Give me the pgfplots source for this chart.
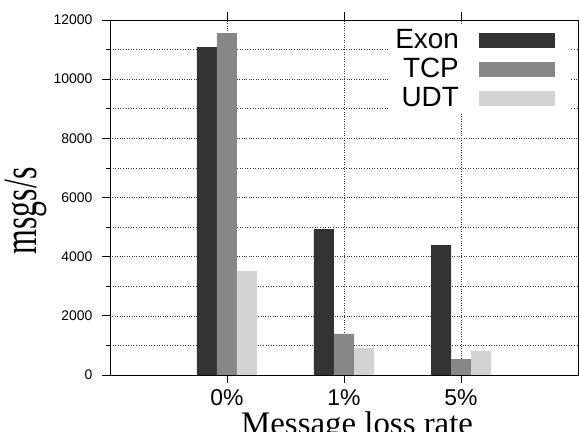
\documentclass[border=0pt]{standalone}
\usepackage{pgfplots}
\pgfplotsset{compat=1.18}
\usepackage{fontspec}
\setmainfont{Liberation Serif}
\setsansfont{Liberation Sans}
\definecolor{cexon}{HTML}{333333}
\definecolor{ctcp}{HTML}{878787}
\definecolor{cudt}{HTML}{D3D3D3}
\begin{document}
\begin{tikzpicture}
\begin{axis}[
  width=468bp, height=355bp, scale only axis,
  ybar=0pt, bar width=20bp,
  legend image code/.code={\path[fill=none,draw=none] (0bp,-7.5bp) rectangle (105bp,7.5bp); \fill[#1] (18bp,-7.5bp) rectangle (94bp,7.5bp);},
  xmin=-1, xmax=3, ymin=0, ymax=12000,
  xtick={0,1,2}, xticklabels={0\%,1\%,5\%},
  ytick={0,2000,...,12000}, minor y tick num=1,
  scaled y ticks=false,
  /pgf/number format/1000 sep={},
  /pgf/number format/assume math mode=true,
  tick align=outside, xtick pos=both, ytick pos=left,
  major tick length=8bp, minor tick length=4bp,
  axis line style={line width=0.8bp},
  tick style={line width=0.8bp, black},
  xmajorgrids, ymajorgrids, yminorgrids,
  grid style={dotted, line width=0.6bp, black!80},
  minor grid style={dotted, line width=0.6bp, black!80},
  yticklabel style={font=\sffamily\fontsize{14}{14}\selectfont, anchor=east, xshift=-6bp},
  xticklabel style={font=\sffamily\fontsize{23}{23}\selectfont, anchor=base, yshift=-22bp},
  ylabel={\scalebox{1}[1.5]{msgs/s}},
  ylabel style={font=\fontsize{32}{32}\selectfont, at={(axis description cs:-0.156,0.462)}, anchor=base, rotate=0},
  xlabel={Message loss rate},
  xlabel style={font=\fontsize{33}{33}\selectfont, at={(axis description cs:0.528,-0.168)}, anchor=base},
  legend style={draw=none, fill=white, at={(axis description cs:0.983,0.986)}, anchor=north east,
    font=\sffamily\fontsize{28}{28}\selectfont, inner xsep=4bp, inner ysep=2bp,
    row sep=3bp,
    nodes={inner sep=2bp, text height=19bp, text depth=3bp}},
  legend plot pos=right, legend cell align=right,
]
\addplot[fill=cexon, draw=none] coordinates {(0,11080) (1,4930) (2,4390)};
\addplot[fill=ctcp, draw=none] coordinates {(0,11560) (1,1390) (2,540)};
\addplot[fill=cudt, draw=none] coordinates {(0,3510) (1,910) (2,810)};
\legend{Exon,TCP,UDT}
\end{axis}
\pgfresetboundingbox
\path (-110bp,-57bp) rectangle (469bp,375bp);
\end{tikzpicture}
\end{document}
